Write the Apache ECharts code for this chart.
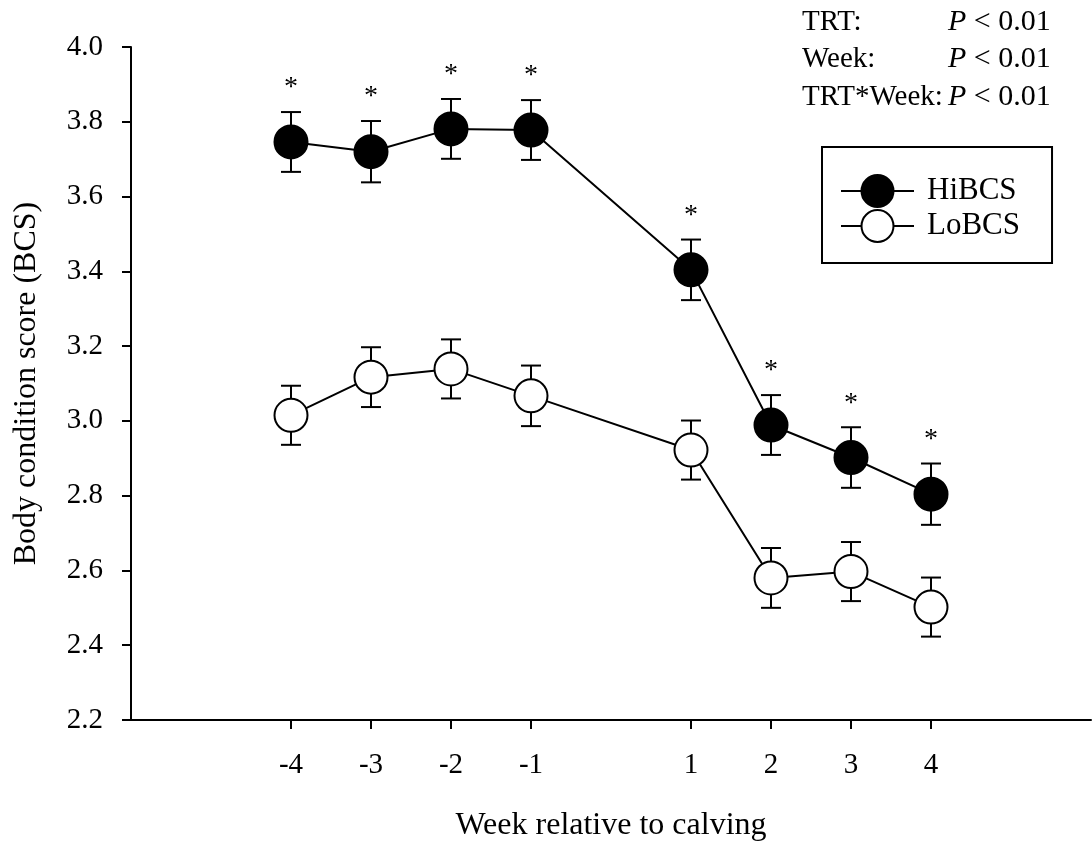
<!DOCTYPE html>
<html>
<head>
<meta charset="utf-8">
<script src="https://cdn.jsdelivr.net/npm/echarts@6/dist/echarts.min.js"></script>
<style>
  html, body { margin: 0; padding: 0; background: #fff; }
  #chart { width: 1092px; height: 844px; }
</style>
</head>
<body>
<div id="chart"></div>
<script>
// weeks relative to calving (no week 0)
const weeks = [-4, -3, -2, -1, 1, 2, 3, 4]
const hiMean = [3.746, 3.72, 3.781, 3.778, 3.404, 2.989, 2.902, 2.804]
const hiSE = [0.08, 0.082, 0.08, 0.08, 0.081, 0.08, 0.081, 0.082]
const loMean = [3.015, 3.117, 3.139, 3.067, 2.922, 2.58, 2.597, 2.502]
const loSE = [0.079, 0.08, 0.079, 0.081, 0.079, 0.08, 0.079, 0.079]
const hiSig = [1, 1, 1, 1, 1, 1, 1, 1]
const statNames = ['TRT:', 'Week:', 'TRT*Week:']
const statValues = ['P < 0.01', 'P < 0.01', 'P < 0.01']

const FONT = 'Liberation Serif'
const chart = echarts.init(document.getElementById('chart'))

const errData = (mean, se, sig) => weeks.map((w, i) => [w, mean[i], se[i], sig ? sig[i] : 0])

// error bars (+ asterisks) drawn under the markers
const renderErr = (params, api) => {
  const x = api.value(0), m = api.value(1), s = api.value(2)
  const top = api.coord([x, m + s])
  const bot = api.coord([x, m - s])
  const hw = 10
  const st = { stroke: '#000', lineWidth: 2 }
  const kids = [
    { type: 'line', shape: { x1: top[0], y1: top[1], x2: bot[0], y2: bot[1] }, style: st },
    { type: 'line', shape: { x1: top[0] - hw, y1: top[1], x2: top[0] + hw, y2: top[1] }, style: st },
    { type: 'line', shape: { x1: bot[0] - hw, y1: bot[1], x2: bot[0] + hw, y2: bot[1] }, style: st }
  ]
  if (api.value(3)) {
    kids.push({
      type: 'text', x: top[0], y: top[1] - 24,
      style: { text: '*', fontFamily: FONT, fontSize: 28, fill: '#000', align: 'center', verticalAlign: 'middle' }
    })
  }
  return { type: 'group', children: kids }
}

const statGraphics = []
statNames.forEach((name, i) => {
  const y = 22 + i * 37.5
  statGraphics.push({
    type: 'text', x: 802, y: y,
    style: { text: name, fontFamily: FONT, fontSize: 29, fill: '#000', verticalAlign: 'middle' }
  })
  statGraphics.push({
    type: 'text', x: 948, y: y,
    style: {
      text: '{i|P}' + statValues[i].slice(1), fontFamily: FONT, fontSize: 30, fill: '#000', verticalAlign: 'middle',
      rich: { i: { fontStyle: 'italic', fontFamily: FONT, fontSize: 30 } }
    }
  })
})

chart.setOption({
  animation: false,
  backgroundColor: '#fff',
  grid: { left: 131, right: 1, top: 47, bottom: 124, outerBoundsMode: 'none', containLabel: false },
  legend: {
    orient: 'vertical', left: 822, top: 147,
    itemWidth: 73, itemHeight: 40, itemGap: 1,
    padding: [27, 32, 20, 18],
    borderColor: '#000', borderWidth: 2,
    textStyle: { fontFamily: FONT, fontSize: 31, color: '#000', padding: [0, 0, 0, 8] },
    data: ['HiBCS', 'LoBCS']
  },
  graphic: statGraphics,
  xAxis: {
    type: 'value', min: -6, max: 6, interval: 1,
    name: 'Week relative to calving', nameLocation: 'middle', nameGap: 90,
    nameTextStyle: { fontFamily: FONT, fontSize: 32, color: '#000' },
    axisLine: { onZero: false, lineStyle: { color: '#000', width: 2 } },
    axisTick: { show: true, length: 9, lineStyle: { width: 2, color: '#000' }, customValues: weeks },
    axisLabel: { fontFamily: FONT, fontSize: 29, color: '#000', margin: 31, customValues: weeks },
    splitLine: { show: false }
  },
  yAxis: {
    type: 'value', min: 2.2, max: 4.0, interval: 0.2,
    name: 'Body condition score (BCS)', nameLocation: 'middle', nameGap: 88, nameRotate: 90,
    nameTextStyle: { fontFamily: FONT, fontSize: 32, color: '#000' },
    axisLine: { show: true, onZero: false, lineStyle: { color: '#000', width: 2 } },
    axisTick: { show: true, length: 9, lineStyle: { width: 2, color: '#000' } },
    axisLabel: { fontFamily: FONT, fontSize: 29, color: '#000', margin: 28, formatter: v => v.toFixed(1) },
    splitLine: { show: false }
  },
  series: [
    {
      type: 'custom', name: 'errHi', renderItem: renderErr, z: 1,
      encode: { x: 0, y: 1 }, data: errData(hiMean, hiSE, hiSig)
    },
    {
      type: 'custom', name: 'errLo', renderItem: renderErr, z: 1,
      encode: { x: 0, y: 1 }, data: errData(loMean, loSE)
    },
    {
      name: 'HiBCS', type: 'line', z: 5,
      data: weeks.map((w, i) => [w, hiMean[i]]),
      symbol: 'circle', symbolSize: 33,
      lineStyle: { color: '#000', width: 2 },
      itemStyle: { color: '#000', borderColor: '#000', borderWidth: 2 }
    },
    {
      name: 'LoBCS', type: 'line', z: 5,
      data: weeks.map((w, i) => [w, loMean[i]]),
      symbol: 'circle', symbolSize: 33,
      lineStyle: { color: '#000', width: 2 },
      itemStyle: { color: '#fff', borderColor: '#000', borderWidth: 2 }
    }
  ]
})
</script>
</body>
</html>
